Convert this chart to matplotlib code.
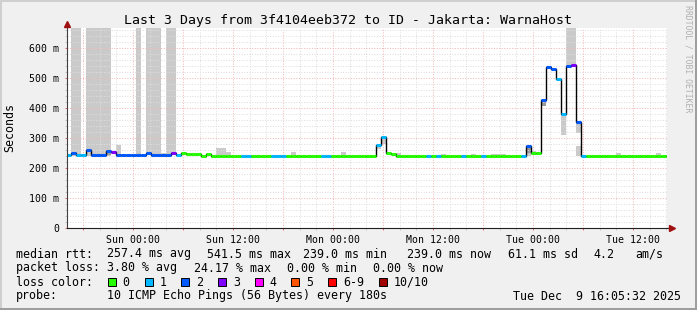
import numpy as np
import matplotlib
matplotlib.use('Agg')
import matplotlib.pyplot as plt
import matplotlib.dates as mdates
from matplotlib.ticker import MultipleLocator, FuncFormatter
from matplotlib.patches import Rectangle
from matplotlib.lines import Line2D
from datetime import datetime, timedelta

# --- data (36 min steps, values in ms) ---
end_time = datetime(2025, 12, 9, 16, 5, 32)
start_time = end_time - timedelta(days=3)
first_step = start_time - timedelta(minutes=7.2)
step_minutes = 36

run_len = [1, 1, 2, 1, 3, 1, 1, 6, 1, 4, 1, 1, 1, 3, 1, 1, 6, 2, 4, 3, 7, 2, 9,
           1, 1, 1, 1, 6, 1, 1, 1, 4, 1, 3, 1, 7, 1, 1, 2, 1, 1, 1, 1, 1, 1, 1, 1, 1, 17]
run_median = [245, 251, 245, 260, 244, 257, 252, 245, 249, 245, 250, 242, 249, 247, 240, 247, 240, 240, 240, 240, 240, 240, 241,
              277, 304, 251, 247, 240, 240, 240, 240, 240, 240, 240, 240, 240, 240, 273, 250, 427, 536, 531, 497, 379, 541, 545, 354, 240, 239]
run_loss = [1, 2, 1, 2, 2, 2, 3, 2, 2, 2, 3, 1, 0, 0, 0, 0, 0, 1, 0, 1, 0, 1, 0,
            1, 1, 0, 0, 0, 1, 0, 1, 0, 1, 0, 1, 0, 1, 2, 0, 2, 2, 2, 1, 1, 2, 3, 2, 1, 0]

# smoke boxes: first step, last step (exclusive), low, high
smoke_k0 = [1, 4, 10, 14, 16, 19, 20, 30, 32, 45, 55, 62, 63, 66, 75, 81, 85, 92, 93, 99, 100, 102, 102, 110, 118]
smoke_k1 = [3, 9, 11, 15, 19, 20, 22, 32, 33, 46, 56, 63, 64, 67, 76, 82, 88, 93, 94, 100, 102, 103, 103, 111, 119]
smoke_lo = [240, 240, 245, 245, 245, 245, 245, 240, 240, 240, 240, 262, 280, 240, 240, 240, 240, 240, 250, 310, 541, 318, 240, 240, 240]
smoke_hi = [700, 700, 277, 700, 700, 250, 700, 266, 253, 253, 253, 277, 304, 250, 248, 248, 248, 273, 258, 379, 700, 354, 273, 250, 250]
dark_k0 = [8, 92, 95]
dark_k1 = [9, 93, 96]
dark_lo = [245, 250, 407]
dark_hi = [257, 270, 427]

loss_labels = ['0', '1', '2', '3', '4', '5', '6-9', '10/10']
loss_colors = ['#26ff00', '#00b8ff', '#0059ff', '#7e00ff', '#ff00ff', '#ff5500', '#ff0000', '#a10000']

stats_rtt = [(16, 'median rtt:'), (107, '257.4 ms avg'), (207, '541.5 ms max'), (303, '239.0 ms min'),
             (407, '239.0 ms now'), (508, '61.1 ms sd'), (593, '4.2'), (635, 'am/s')]
stats_loss = [(16, 'packet loss:'), (107, '3.80 % avg'), (194, '24.17 % max'), (287, '0.00 % min'), (373, '0.00 % now')]
probe_text = '10 ICMP Echo Pings (56 Bytes) every 180s'
stamp_text = 'Tue Dec  9 16:05:32 2025'
title = 'Last 3 Days from 3f4104eeb372 to ID - Jakarta: WarnaHost'

W, H = 697, 310
mono = 'DejaVu Sans Mono'
plt.rcParams['font.family'] = mono


def fx(x):
    return x / W


def fy(y):
    return 1 - y / H


median = np.repeat(run_median, run_len)
loss = np.repeat(run_loss, run_len)
edges = mdates.date2num([first_step + timedelta(minutes=step_minutes * k) for k in range(len(median) + 1)])

fig = plt.figure(figsize=(W / 100, H / 100), dpi=100, facecolor='#f0f0f0')
ax = fig.add_axes([fx(67), fy(228), 600 / W, 200 / H])
ax.set_facecolor('white')

# smoke
for k0, k1, lo, hi in zip(smoke_k0, smoke_k1, smoke_lo, smoke_hi):
    ax.bar(edges[k0], hi - lo, width=edges[k1] - edges[k0], bottom=lo, align='edge',
           color='#cacaca', lw=0, zorder=1)
for k0, k1, lo, hi in zip(dark_k0, dark_k1, dark_lo, dark_hi):
    ax.bar(edges[k0], hi - lo, width=edges[k1] - edges[k0], bottom=lo, align='edge',
           color='#9a9a9a', lw=0, zorder=1.2)

# median line + loss colours
ax.stairs(median, edges, baseline=None, color='black', lw=1.0, zorder=3)
ax.hlines(median, edges[:-1], edges[1:], colors=[loss_colors[l] for l in loss], lw=2.2, zorder=4)

ax.set_xlim(mdates.date2num(start_time), mdates.date2num(end_time))
ax.set_ylim(0, 666.7)

ax.xaxis.set_major_locator(mdates.HourLocator(byhour=[0, 6, 12, 18]))
ax.xaxis.set_minor_locator(mdates.HourLocator(byhour=range(0, 24, 2)))


def xlabel(v, pos):
    d = mdates.num2date(v)
    return d.strftime('%a %H:%M') if d.hour in (0, 12) else ''


ax.xaxis.set_major_formatter(FuncFormatter(xlabel))
ax.yaxis.set_major_locator(MultipleLocator(100))
ax.yaxis.set_minor_locator(MultipleLocator(20))
ax.yaxis.set_major_formatter(FuncFormatter(lambda v, p: '0' if v == 0 else f'{int(v)} m'))

ax.set_axisbelow('line')
ax.grid(which='major', color='#f4b6b6', lw=0.72, ls=(0, (1, 1.6)))
ax.grid(which='minor', color='#dedede', lw=0.72, ls=(0, (1, 1.6)))
ax.tick_params(which='major', length=1.5, width=0.72, color='#e07070', labelsize=7.1, pad=3.5)
ax.tick_params(which='minor', length=1.5, width=0.72, color='#c8c8c8')
ax.tick_params(axis='y', pad=4.2)
for s in ax.spines.values():
    s.set_visible(False)

# axes with arrows
ax.add_line(Line2D([0, 0], [0, 1.02], transform=ax.transAxes, color='#404040', lw=0.8, clip_on=False, zorder=5))
ax.add_line(Line2D([0, 1.005], [0, 0], transform=ax.transAxes, color='#202020', lw=0.8, clip_on=False, zorder=5))
ax.plot([0], [1.02], marker='^', ms=4, color='#a01010', transform=ax.transAxes, clip_on=False, zorder=6)
ax.plot([1.008], [0], marker='>', ms=4, color='#a01010', transform=ax.transAxes, clip_on=False, zorder=6)

# texts
fig.text(fx(347.5), fy(24), title, ha='center', va='baseline', fontsize=9.55)
fig.text(fx(10), fy(128), 'Seconds', rotation=90, ha='center', va='center', fontsize=8.35)
fig.text(fx(688), fy(59), 'RRDTOOL / TOBI OETIKER', rotation=270, ha='center', va='center',
         fontsize=5.9, color='#b0b0b0')

for x, s in stats_rtt:
    fig.text(fx(x), fy(257.5), s, va='baseline', fontsize=8.35)
for x, s in stats_loss:
    fig.text(fx(x), fy(271.5), s, va='baseline', fontsize=8.35)
fig.text(fx(16), fy(285.5), 'loss color:', va='baseline', fontsize=8.35)
bx = 108
for lab, col in zip(loss_labels, loss_colors):
    fig.add_artist(Rectangle((fx(bx), fy(286)), 8 / W, 8 / H, transform=fig.transFigure,
                             facecolor=col, edgecolor='black', lw=0.7))
    fig.text(fx(bx + 14.7), fy(285.5), lab, va='baseline', fontsize=8.35)
    bx += 14.7 + 7 * len(lab) + 15
fig.text(fx(16), fy(299.5), 'probe:', va='baseline', fontsize=8.35)
fig.text(fx(107), fy(299.5), probe_text, va='baseline', fontsize=8.35)
fig.text(fx(513), fy(299.5), stamp_text, va='baseline', fontsize=8.35)

# 3d border
fig.add_artist(Rectangle((0, 1 - 2 / H), 1, 2 / H, transform=fig.transFigure, color='#cfcfcf', lw=0))
fig.add_artist(Rectangle((0, 0), 2 / W, 1, transform=fig.transFigure, color='#cfcfcf', lw=0))
fig.add_artist(Rectangle((0, 0), 1, 2 / H, transform=fig.transFigure, color='#9e9e9e', lw=0))
fig.add_artist(Rectangle((1 - 2 / W, 0), 2 / W, 1, transform=fig.transFigure, color='#9e9e9e', lw=0))

fig.savefig('out.png', dpi=100, facecolor=fig.get_facecolor())
